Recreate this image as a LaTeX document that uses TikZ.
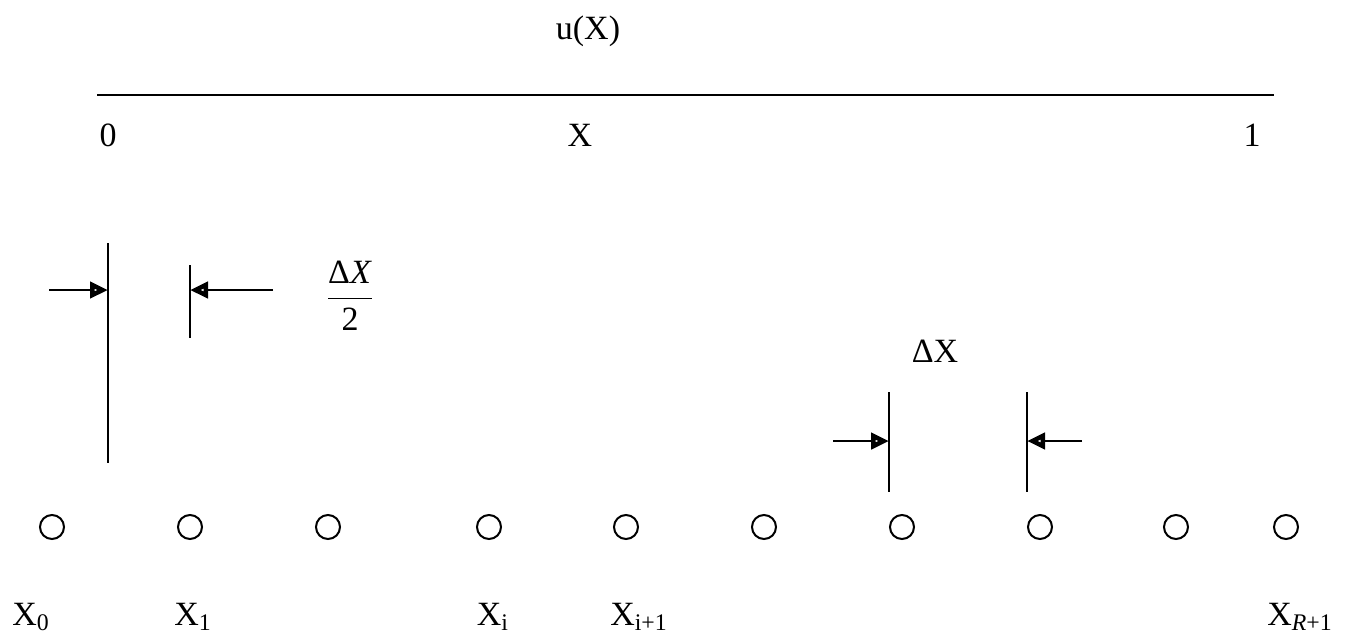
\documentclass[tikz,border=0pt]{standalone}
\usepackage{amsmath}
\usepackage{fontspec}
\setmainfont{Liberation Serif}
\usetikzlibrary{arrows.meta,positioning}

\begin{document}
\begin{tikzpicture}[x=0.5pt,y=-0.5pt,
    every node/.style={font=\fontsize{17}{20}\selectfont, inner sep=0pt},
    gridpt/.style={circle, draw, line width=1pt, minimum size=12pt},
    arrow/.style={-{Triangle[open,length=9pt,width=8pt,line width=2.6pt]}, line width=1.1pt},
    bar/.style={line width=1.1pt}
]
    \useasboundingbox (0,0) rectangle (1349,638);

    % domain
    \node (ux) at (588,31) {u(X)};
    \coordinate (axL) at (97,95);
    \coordinate (axR) at (1274,95);
    \draw[line width=1.3pt] (axL) -- (axR);
    \node (zero) at (108,135) {0};
    \node (xpos) at (580,135) {X};
    \node (one) at (1252,135) {1};

    % half step at the wall
    \coordinate (wallT) at (108,243);
    \coordinate (wallB) at (108,463);
    \coordinate (firstT) at (190,265);
    \coordinate (firstB) at (190,338);
    \draw[bar] (wallT) -- (wallB);
    \draw[bar] (firstT) -- (firstB);
    \coordinate (halfL) at (49,290);
    \coordinate (halfR) at (273,290);
    \draw[arrow] (halfL) -- (wallT |- halfL);
    \draw[arrow] (halfR) -- (firstT |- halfR);
    \node (half) at (350,296) {$\dfrac{\text{Δ\textit{X}}}{\text{2}}$};

    % full step
    \node (dx) at (935,351) {ΔX};
    \coordinate (stepLT) at (889,392);
    \coordinate (stepLB) at (889,492);
    \coordinate (stepRT) at (1027,392);
    \coordinate (stepRB) at (1027,492);
    \draw[bar] (stepLT) -- (stepLB);
    \draw[bar] (stepRT) -- (stepRB);
    \coordinate (fullL) at (833,441);
    \coordinate (fullR) at (1082,441);
    \draw[arrow] (fullL) -- (stepLT |- fullL);
    \draw[arrow] (fullR) -- (stepRT |- fullR);

    % grid points
    \foreach \x [count=\i from 0] in {52,190,328,489,626,764,902,1040,1176,1286}
        \node[gridpt] (p\i) at (\x,527) {};

    \node (lx0) at (31,617) {X\textsubscript{0}};
    \node (lx1) at (193,617) {X\textsubscript{1}};
    \node (lxi) at (493,617) {X\textsubscript{i}};
    \node (lxi1) at (639,617) {X\textsubscript{i+1}};
    \node (lxr) at (1300,617) {X\textsubscript{\textit{R}+1}};
\end{tikzpicture}
\end{document}
